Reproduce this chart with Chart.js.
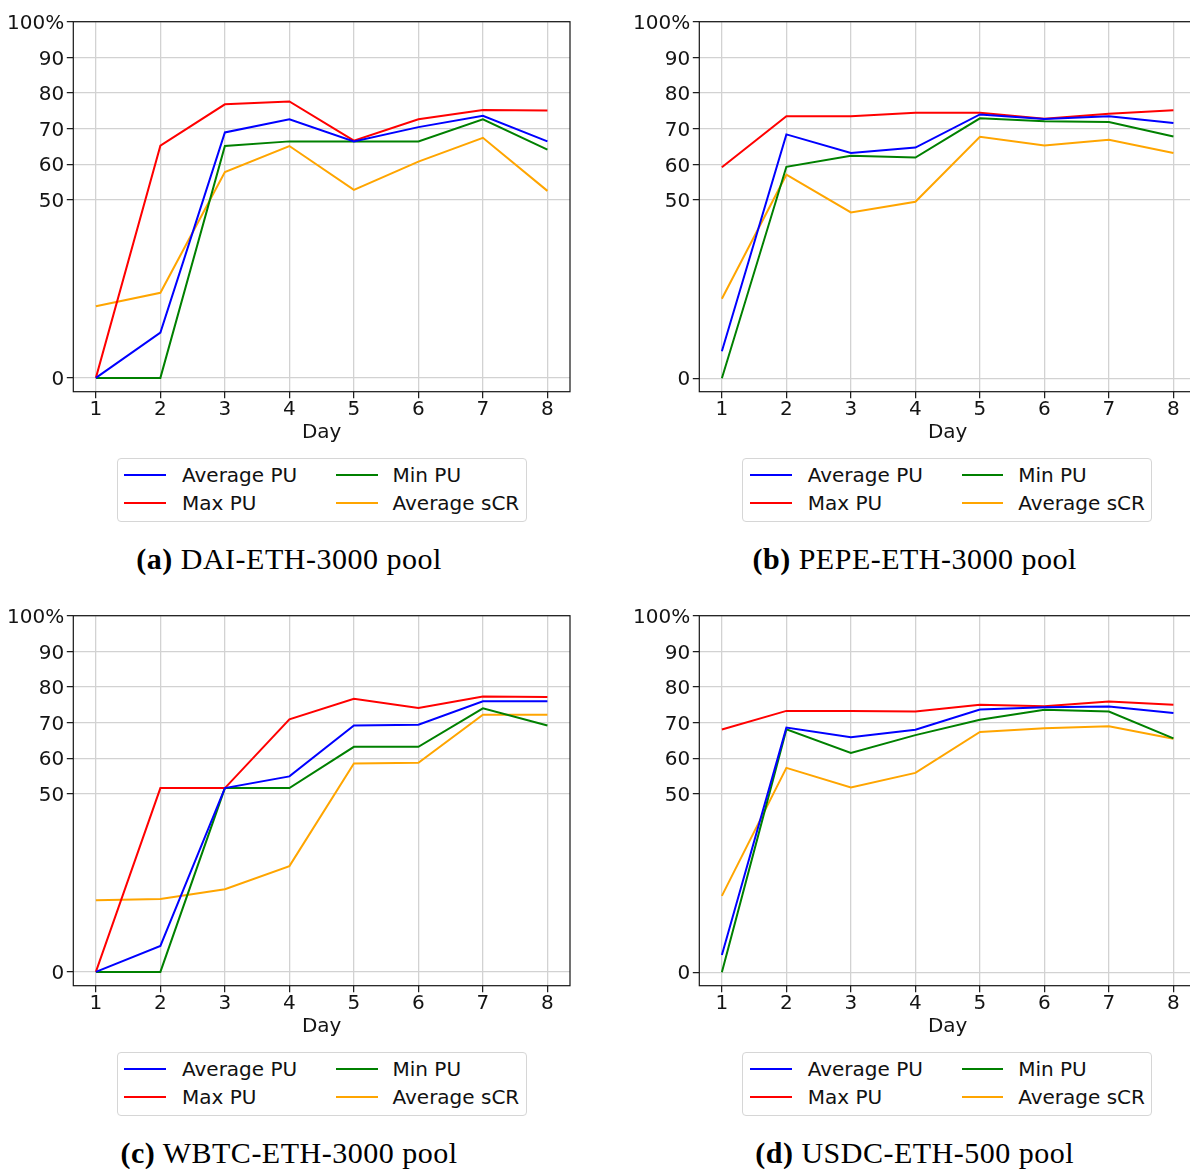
<!DOCTYPE html>
<html>
<head>
<meta charset="utf-8">
<script src="https://cdn.jsdelivr.net/npm/chart.js@4/dist/chart.umd.min.js"></script>
<style>
  html, body { margin: 0; padding: 0; background: #fff; }
  body { width: 1190px; height: 1169px; overflow: hidden; position: relative; }
  .panel { position: absolute; width: 600px; height: 594px; }
  .panel canvas { position: absolute; left: 0; top: 0; }
  .legend {
    position: absolute; left: 116.7px; top: 458.3px; width: 408px; height: 61.4px;
    border: 1px solid #d6d6d6; border-radius: 4px; background: #fff;
    font-family: "DejaVu Sans", sans-serif; font-size: 20px; color: #111;
  }
  .legend .item { position: absolute; height: 20px; line-height: 20px; white-space: nowrap; }
  .legend .swatch { position: absolute; width: 41.7px; height: 2px; }
  .legend .label { position: absolute; }
  .caption {
    position: absolute; left: 0; width: 578px; top: 543.9px; text-align: center;
    font-family: "Liberation Serif", serif; font-size: 30px; line-height: 30px;
    color: #000; letter-spacing: 0.5px; white-space: nowrap;
  }
  .caption b { font-weight: bold; }
</style>
</head>
<body>
<script>
// Days on the x axis and the y ticks shown on every panel
const days = [1, 2, 3, 4, 5, 6, 7, 8];
const yTickValues = [0, 50, 60, 70, 80, 90, 100];

const seriesNames = ['Average PU', 'Max PU', 'Min PU', 'Average sCR'];
const seriesColors = ['#0000ff', '#ff0000', '#008000', '#ffa500'];

const panelTags = ['(a)', '(b)', '(c)', '(d)'];
const poolNames = ['DAI-ETH-3000 pool', 'PEPE-ETH-3000 pool', 'WBTC-ETH-3000 pool', 'USDC-ETH-500 pool'];

// DAI-ETH-3000
const daiAvgPU  = [0, 12.7, 68.9, 72.6, 66.4, 70.4, 73.6, 66.4];
const daiMaxPU  = [0, 65.2, 76.8, 77.6, 66.6, 72.6, 75.2, 75.1];
const daiMinPU  = [0, 0, 65.1, 66.4, 66.4, 66.4, 72.6, 64.1];
const daiAvgSCR = [20.1, 23.9, 57.8, 65.1, 52.8, 60.7, 67.4, 52.5];

// PEPE-ETH-3000
const pepeAvgPU  = [7.6, 68.4, 63.2, 64.7, 74.0, 72.7, 73.5, 71.6];
const pepeMaxPU  = [59.2, 73.5, 73.5, 74.5, 74.5, 72.8, 74.2, 75.2];
const pepeMinPU  = [0, 59.3, 62.4, 61.9, 72.9, 72.1, 71.9, 67.8];
const pepeAvgSCR = [22.3, 57.1, 46.5, 49.5, 67.7, 65.3, 66.9, 63.2];

// WBTC-ETH-3000
const wbtcAvgPU  = [0, 7.3, 51.6, 54.9, 69.2, 69.4, 76.0, 76.0];
const wbtcMaxPU  = [0, 51.6, 51.6, 70.9, 76.7, 74.1, 77.3, 77.2];
const wbtcMinPU  = [0, 0, 51.6, 51.6, 63.2, 63.2, 74.0, 69.2];
const wbtcAvgSCR = [20.1, 20.5, 23.2, 29.7, 58.5, 58.7, 72.2, 72.2];

// USDC-ETH-500
const usdcAvgPU  = [4.8, 68.6, 65.9, 68.0, 73.7, 74.3, 74.5, 72.7];
const usdcMaxPU  = [68.1, 73.3, 73.3, 73.1, 75.0, 74.6, 75.9, 75.0];
const usdcMinPU  = [0, 68.1, 61.5, 66.5, 70.8, 73.6, 73.1, 65.6];
const usdcAvgSCR = [21.4, 57.3, 51.8, 55.9, 67.4, 68.4, 69.0, 65.5];

const poolSeries = [
  [daiAvgPU, daiMaxPU, daiMinPU, daiAvgSCR],
  [pepeAvgPU, pepeMaxPU, pepeMinPU, pepeAvgSCR],
  [wbtcAvgPU, wbtcMaxPU, wbtcMinPU, wbtcAvgSCR],
  [usdcAvgPU, usdcMaxPU, usdcMinPU, usdcAvgSCR]
];

// Panel origins on the page (2 x 2 grid)
const panelOrigins = [[0, 0], [625.7, 0], [0, 594], [625.7, 594]];

const INK = '#141414';
const GRID = '#d2d2d2';
const tickFont = { family: 'DejaVu Sans', size: 20 };

// Outline the whole plotting area, drawn over the lines like axes spines
const framePlugin = {
  id: 'frame',
  afterDatasetsDraw(chart) {
    const { ctx, chartArea: a } = chart;
    ctx.save();
    ctx.strokeStyle = INK;
    ctx.lineWidth = 1.2;
    ctx.strokeRect(a.left, a.top, a.right - a.left, a.bottom - a.top);
    ctx.restore();
  }
};

// Centre the y tick labels on the digits rather than on the em box
function nudgeLabels(scale, dy) {
  if (scale._nudged) return;
  scale._nudged = true;
  const orig = scale.drawLabels;
  scale.drawLabels = function (area) {
    const ctx = this.ctx;
    ctx.save();
    ctx.translate(0, dy);
    orig.call(this, area);
    ctx.restore();
  };
}

function buildPanel(idx) {
  const [ox, oy] = panelOrigins[idx];
  const panel = document.createElement('div');
  panel.className = 'panel';
  panel.style.left = ox + 'px';
  panel.style.top = oy + 'px';
  document.body.appendChild(panel);

  const canvas = document.createElement('canvas');
  canvas.width = 600;
  canvas.height = 450;
  canvas.style.width = '600px';
  canvas.style.height = '450px';
  panel.appendChild(canvas);

  const series = poolSeries[idx];
  const dataMax = Math.max(...series.flat());
  const yMin = -0.05 * dataMax;

  const datasets = series.map((vals, s) => ({
    label: seriesNames[s],
    data: days.map((d, i) => ({ x: d, y: vals[i] })),
    borderColor: seriesColors[s],
    backgroundColor: seriesColors[s],
    borderWidth: 2,
    pointRadius: 0,
    tension: 0,
    fill: false
  }));

  const chart = new Chart(canvas, {
    type: 'line',
    data: { datasets },
    plugins: [framePlugin],
    options: {
      responsive: false,
      animation: false,
      devicePixelRatio: 1,
      layout: { padding: { top: 21.7, right: 30, bottom: 0, left: 0 } },
      plugins: { legend: { display: false }, tooltip: { enabled: false } },
      scales: {
        x: {
          type: 'linear',
          min: 0.65,
          max: 8.35,
          afterBuildTicks: (scale) => { scale.ticks = days.map(v => ({ value: v })); },
          afterFit: (scale) => { scale.height = 58.3; },
          border: { display: false },
          grid: { color: GRID, lineWidth: 1.3, tickColor: INK, tickLength: 6.5, tickWidth: 1.2 },
          ticks: { font: tickFont, color: INK, padding: 0, autoSkip: false, maxRotation: 0,
                   callback: (v) => String(v) },
          title: { display: true, text: 'Day', font: tickFont, color: INK, padding: { top: 0, bottom: 4.9 } }
        },
        y: {
          type: 'linear',
          min: yMin,
          max: 100,
          afterBuildTicks: (scale) => { scale.ticks = yTickValues.map(v => ({ value: v })); },
          afterFit: (scale) => { scale.width = 73.3; nudgeLabels(scale, 2); },
          border: { display: false },
          grid: { color: GRID, lineWidth: 1.3, tickColor: INK, tickLength: 6.5, tickWidth: 1.2 },
          ticks: { font: tickFont, color: INK, padding: 2.5, autoSkip: false,
                   callback: (v) => (v === 100 ? '100%' : String(v)) }
        }
      }
    }
  });

  // Two-column legend (column-major order) built from the chart's datasets
  const legend = document.createElement('div');
  legend.className = 'legend';
  panel.appendChild(legend);
  const colX = [[6.6, 64.3], [218.3, 274.8]];
  const rowY = [15.7, 44.0];
  chart.data.datasets.forEach((ds, i) => {
    const col = Math.floor(i / 2), row = i % 2;
    const sw = document.createElement('div');
    sw.className = 'swatch';
    sw.style.left = colX[col][0] + 'px';
    sw.style.top = (rowY[row] - 1) + 'px';
    sw.style.background = ds.borderColor;
    legend.appendChild(sw);
    const lab = document.createElement('div');
    lab.className = 'item label';
    lab.style.left = colX[col][1] + 'px';
    lab.style.top = (rowY[row] - 9.8) + 'px';
    lab.textContent = ds.label;
    legend.appendChild(lab);
  });

  const cap = document.createElement('div');
  cap.className = 'caption';
  const tag = document.createElement('b');
  tag.textContent = panelTags[idx];
  cap.appendChild(tag);
  cap.appendChild(document.createTextNode(' ' + poolNames[idx]));
  panel.appendChild(cap);
}

for (let i = 0; i < 4; i++) buildPanel(i);
</script>
</body>
</html>
